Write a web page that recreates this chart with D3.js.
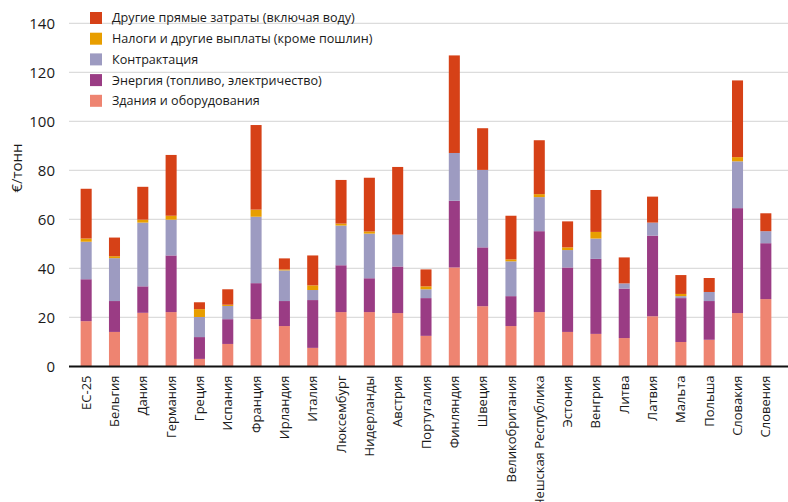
<!DOCTYPE html>
<html><head><meta charset="utf-8">
<script src="https://cdn.jsdelivr.net/npm/d3@7"></script>
<style>
html,body{margin:0;padding:0;background:#fff;}
svg text{font-family:"Open Sans","Noto Sans",sans-serif;fill:#1a1a1a;}
</style></head>
<body><svg id="chart" width="788" height="502"></svg>
<script>
const categories = ["ЕС-25","Бельгия","Дания","Германия","Греция","Испания","Франция","Ирландия","Италия","Люксембург","Нидерланды","Австрия","Португалия","Финляндия","Швеция","Великобритания","Чешская Республика","Эстония","Венгрия","Литва","Латвия","Мальта","Польша","Словакия","Словения"];
const buildings   = [18.5,14.1,21.9,22.2,3.1,9.2,19.3,16.5,7.6,22.2,22.2,21.8,12.5,40.4,24.6,16.5,22.2,14.1,13.3,11.6,20.5,10.0,10.9,21.8,27.5];
const energy      = [17.1,12.6,10.8,23.1,8.9,10.1,14.7,10.2,19.5,19.1,13.8,19.0,15.4,27.2,24.0,12.2,33.0,26.3,30.6,20.2,32.9,17.9,15.8,42.8,22.8];
const contracting = [15.3,17.5,26.0,14.6,8.2,5.4,27.1,12.5,4.1,16.2,18.2,13.0,3.6,19.5,31.6,14.2,13.9,7.1,8.3,2.1,5.3,0.8,3.7,19.1,4.9];
const taxes       = [1.3,0.8,1.2,1.6,3.2,0.5,2.9,0.4,1.9,0.8,0.9,0,1.2,0,0,0.8,1.2,1.1,2.7,0,0,0.9,0,1.7,0];
const otherDirect = [20.3,7.6,13.4,24.8,2.8,6.3,34.5,4.5,12.2,17.8,21.9,27.6,6.9,39.8,17.0,17.8,22.0,10.6,17.1,10.6,10.6,7.7,5.7,31.3,7.3];
const seriesNames = ["Здания и оборудования","Энергия (топливо, электричество)","Контрактация","Налоги и другие выплаты (кроме пошлин)","Другие прямые затраты (включая воду)"];
const seriesColors = ["#ee8471","#9a3c84","#9d9bc1","#e89e00","#d64117"];
const yTicks = [0,20,40,60,80,100,120,140];
const yLabel = "€/тонн";

const seriesData = [buildings, energy, contracting, taxes, otherDirect];
const keys = ["s0","s1","s2","s3","s4"];
const table = categories.map((c,i)=>{const r={cat:c}; keys.forEach((k,j)=>r[k]=seriesData[j][i]); return r;});
const stacked = d3.stack().keys(keys)(table);

const svg = d3.select("#chart");
const x = d3.scaleBand().domain(categories).range([72,780]).paddingInner(0.61).paddingOuter(0.305);
const y = d3.scaleLinear().domain([0,140]).range([366.5,23.3]);

// grid
svg.append("g").selectAll("line").data(yTicks.filter(d=>d>0)).join("line")
  .attr("x1",69).attr("x2",788).attr("y1",d=>y(d)).attr("y2",d=>y(d))
  .attr("stroke","#dcdcdc").attr("stroke-width",1.3);

// y axis labels
const ya = svg.append("g").attr("transform","translate(55,0)")
  .call(d3.axisLeft(y).tickValues(yTicks).tickSize(0).tickPadding(0));
ya.select(".domain").remove();
ya.selectAll("text").attr("font-size",15).attr("font-family","'Open Sans',sans-serif").attr("fill","#1a1a1a");

// bars
svg.append("g").selectAll("g").data(stacked).join("g")
  .attr("fill",(d,i)=>seriesColors[i])
  .selectAll("rect").data(d=>d).join("rect")
  .attr("x",d=>x(d.data.cat)).attr("width",x.bandwidth())
  .attr("y",d=>y(d[1])).attr("height",d=>Math.max(0,y(d[0])-y(d[1])));

// x axis
const xa = svg.append("g").attr("transform","translate(0,366.5)")
  .call(d3.axisBottom(x).tickSize(0).tickPadding(0));
xa.select(".domain").attr("d","M69,0H788").attr("stroke","#111").attr("stroke-width",2);
xa.selectAll("text").attr("font-size",13).attr("font-family","'Open Sans',sans-serif").attr("fill","#1a1a1a")
  .attr("transform","rotate(-90)").attr("text-anchor","end").attr("dy","0.35em").attr("x",-9).attr("y",0);

// y label
svg.append("text").attr("transform","translate(22,168) rotate(-90)").attr("text-anchor","middle")
  .attr("font-size",15).attr("font-weight",500).text(yLabel);

// legend
const legOrder = [4,3,2,1,0];
const lg = svg.append("g").selectAll("g").data(legOrder).join("g")
  .attr("transform",(d,i)=>`translate(90,${12+i*20.7})`);
lg.append("rect").attr("width",12).attr("height",12).attr("fill",d=>seriesColors[d]);
lg.append("text").attr("x",22).attr("y",6).attr("dy","0.35em").attr("font-size",12.6).text(d=>seriesNames[d]);
</script></body></html>
